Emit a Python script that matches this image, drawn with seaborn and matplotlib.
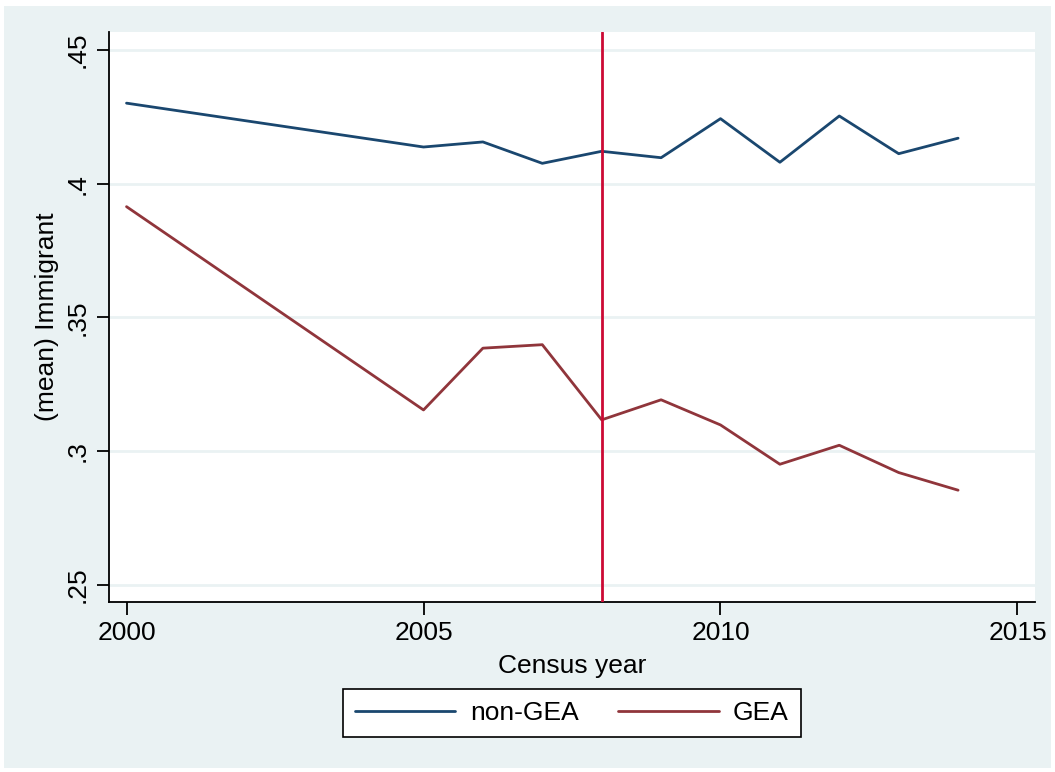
import matplotlib
matplotlib.use("Agg")
import matplotlib.pyplot as plt
import seaborn as sns
import pandas as pd
from matplotlib.lines import Line2D
from matplotlib.patches import Rectangle

years = [2000, 2005, 2006, 2007, 2008, 2009, 2010, 2011, 2012, 2013, 2014]
non_gea = [0.4301, 0.4137, 0.4156, 0.4076, 0.4121, 0.4097, 0.4243, 0.4080, 0.4253, 0.4112, 0.4170]
gea = [0.3914, 0.3154, 0.3385, 0.3398, 0.3117, 0.3192, 0.3098, 0.2951, 0.3022, 0.2920, 0.2854]
groups = ["non-GEA", "GEA"]
x_ticks = [2000, 2005, 2010, 2015]
y_ticks = [0.25, 0.30, 0.35, 0.40, 0.45]
y_tick_labels = [".25", ".3", ".35", ".4", ".45"]
policy_year = 2008

NAVY = "#1a476f"
MAROON = "#90353b"
LINE_RED = "#cc0a34"
BG = "#eaf2f3"

df = pd.DataFrame({
    "year": years * 2,
    "immigrant": non_gea + gea,
    "group": [groups[0]] * len(years) + [groups[1]] * len(years),
})

sns.set_theme(style="white")
plt.rcParams["font.family"] = ["Liberation Sans", "DejaVu Sans"]
plt.rcParams["text.color"] = "black"
plt.rcParams["axes.labelcolor"] = "black"
plt.rcParams["xtick.color"] = "black"
plt.rcParams["ytick.color"] = "black"

W, H = 1055, 772
fig = plt.figure(figsize=(W / 100, H / 100), dpi=100, facecolor="white")
# graph region background, drawn beneath the plot area
region = Rectangle((4 / W, 1 - 768 / H), (1051 - 4) / W, (768 - 6) / H,
                   transform=fig.transFigure, facecolor=BG, edgecolor="none", zorder=-10)
fig.add_artist(region)

left, right, top, bottom = 109, 1035, 32, 602
ax = fig.add_axes([left / W, 1 - bottom / H, (right - left) / W, (bottom - top) / H])
ax.set_facecolor("white")

for yv in y_ticks:
    ax.axhline(yv, color=BG, lw=2, zorder=0)

sns.lineplot(data=df, x="year", y="immigrant", hue="group", hue_order=groups,
             palette=[NAVY, MAROON], lw=2, ax=ax, legend=False, zorder=3)
ax.axvline(policy_year, color=LINE_RED, lw=2, zorder=4)

ax.set_xlim(1999.705, 2015.295)
ax.set_ylim(0.2436, 0.4567)
ax.set_xticks(x_ticks)
ax.set_xticklabels([str(t) for t in x_ticks], fontsize=19)
ax.set_yticks(y_ticks)
ax.set_yticklabels(y_tick_labels, fontsize=19, rotation=90, va="center")
ax.tick_params(axis="both", direction="out", length=9, width=1.3, color="black",
               left=True, bottom=True, pad=5)
for side in ["top", "right"]:
    ax.spines[side].set_visible(False)
for side in ["left", "bottom"]:
    ax.spines[side].set_color("black")
    ax.spines[side].set_linewidth(1.3)

ax.set_xlabel("Census year", fontsize=19, labelpad=6)
ax.set_ylabel("(mean) Immigrant", fontsize=19, labelpad=5)
ax.grid(False)

handles = [Line2D([], [], color=NAVY, lw=2), Line2D([], [], color=MAROON, lw=2)]
leg = fig.legend(handles, groups, loc="center", bbox_to_anchor=(572 / W, 1 - 713 / H),
                 ncol=2, fontsize=19, frameon=True, fancybox=False, edgecolor="black",
                 facecolor="white", framealpha=1, handlelength=3.8, handletextpad=0.55,
                 columnspacing=1.5, borderpad=0.45)
leg.get_frame().set_linewidth(1.2)

fig.savefig("out.png", dpi=100, facecolor="white")
